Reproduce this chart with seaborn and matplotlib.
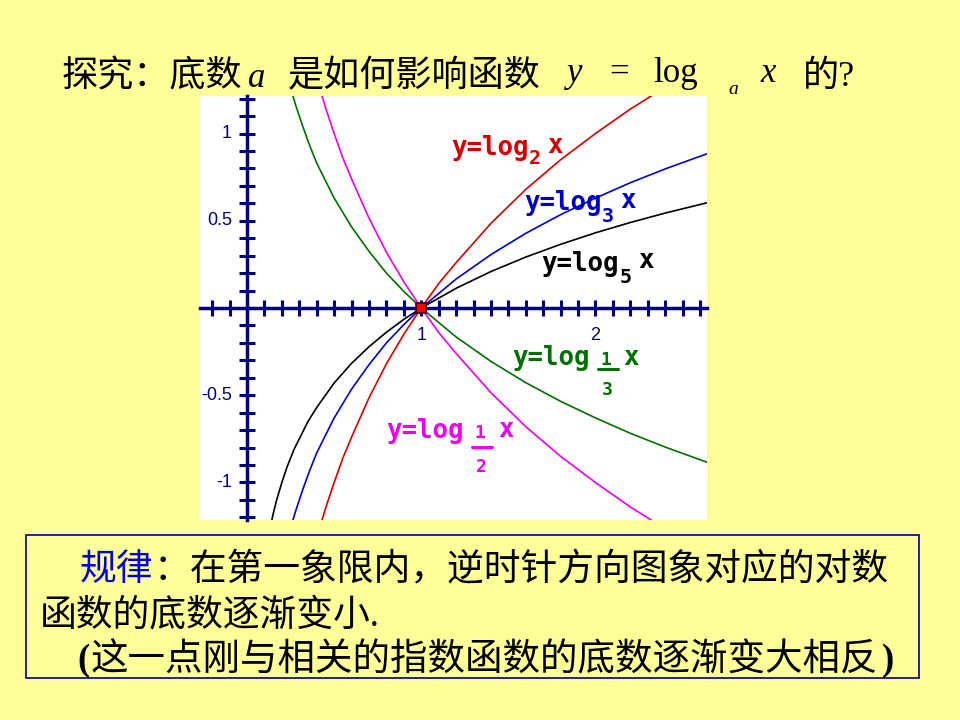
import matplotlib
matplotlib.use("Agg")
import matplotlib.pyplot as plt
import seaborn as sns
from matplotlib.lines import Line2D
from matplotlib.patches import Rectangle
from matplotlib.ticker import MultipleLocator

# --- curve points ---
x_log2 = [0.42, 0.45, 0.5, 0.55, 0.6, 0.7, 0.8, 0.9, 1.0, 1.1, 1.2, 1.4, 1.6, 1.8, 2.0, 2.2, 2.36]
y_log2 = [-1.25, -1.15, -1.00, -0.86, -0.74, -0.515, -0.32, -0.15, 0.0, 0.14, 0.26, 0.485, 0.68, 0.85, 1.00, 1.14, 1.24]
y_log_half = [1.25, 1.15, 1.00, 0.86, 0.74, 0.515, 0.32, 0.15, 0.0, -0.14, -0.26, -0.485, -0.68, -0.85, -1.00, -1.14, -1.24]

x_log3 = [0.25, 0.28, 0.32, 0.36, 0.4, 0.45, 0.5, 0.6, 0.7, 0.8, 0.9, 1.0, 1.2, 1.4, 1.6, 1.8, 2.0, 2.2, 2.4, 2.64]
y_log3 = [-1.26, -1.16, -1.04, -0.93, -0.83, -0.73, -0.63, -0.465, -0.325, -0.20, -0.095, 0.0,
          0.166, 0.306, 0.428, 0.535, 0.63, 0.718, 0.797, 0.884]
y_log_third = [1.26, 1.16, 1.04, 0.93, 0.83, 0.73, 0.63, 0.465, 0.325, 0.20, 0.095, 0.0,
               -0.166, -0.306, -0.428, -0.535, -0.63, -0.718, -0.797, -0.884]

x_log5 = [0.13, 0.15, 0.17, 0.2, 0.23, 0.27, 0.3, 0.35, 0.4, 0.5, 0.6, 0.7, 0.8, 0.9, 1.0,
          1.2, 1.4, 1.6, 1.8, 2.0, 2.2, 2.4, 2.64]
y_log5 = [-1.27, -1.18, -1.10, -1.00, -0.91, -0.81, -0.75, -0.65, -0.57, -0.43, -0.317, -0.222,
          -0.139, -0.065, 0.0, 0.113, 0.209, 0.292, 0.365, 0.431, 0.49, 0.544, 0.603]

common_point = ([1.0], [0.0])

y_tick_vals = [1, 0.5, -0.5, -1]
y_tick_text = ["1", "0.5", "-0.5", "-1"]
x_tick_vals = [1, 2]
x_tick_text = ["1", "2"]

BG = "#FFFF99"
NAVY = "#000080"
RED, BLUE, BLACK, GREEN, MAGENTA = "#d40000", "#0000cc", "#000000", "#007000", "#ee00ee"

sns.set_theme(style="white")
plt.rcParams['font.family'] = ['Noto Sans CJK SC', 'DejaVu Sans']

W, H = 960, 720
fig = plt.figure(figsize=(9.6, 7.2), dpi=100, facecolor=BG)
ax = fig.add_axes([200 / W, 1 - 520 / H, 507 / W, 424 / H])
ax.set_facecolor("white")

curves = [
    (x_log2, y_log2, RED),
    (x_log3, y_log3, BLUE),
    (x_log5, y_log5, BLACK),
    (x_log3, y_log_third, GREEN),
    (x_log2, y_log_half, MAGENTA),
]
for xs, ys, c in curves:
    sns.lineplot(x=xs, y=ys, ax=ax, color=c, linewidth=1.2, estimator=None, sort=False)

sns.scatterplot(x=common_point[0], y=common_point[1], ax=ax, marker="s", s=60,
                color="red", edgecolor="#300000", linewidth=1.2, zorder=6)

ax.set_xlim(-0.27, 2.64)
ax.set_ylim(-1.215, 1.215)
for s in ["top", "right"]:
    ax.spines[s].set_visible(False)
for s in ["left", "bottom"]:
    ax.spines[s].set_position(("data", 0))
    ax.spines[s].set_color(NAVY)
    ax.spines[s].set_linewidth(2.5)
ax.xaxis.set_major_locator(MultipleLocator(0.1))
ax.yaxis.set_major_locator(MultipleLocator(0.1))
ax.tick_params(direction="inout", length=12, width=2.2, color=NAVY,
               bottom=True, left=True, labelbottom=False, labelleft=False)
ax.set_xlabel("")
ax.set_ylabel("")

for v, t in zip(y_tick_vals, y_tick_text):
    ax.text(-0.086, v, t, ha="right", va="center", fontsize=13,
            family="Liberation Sans", color=NAVY, clip_on=False)
for v, t in zip(x_tick_vals, x_tick_text):
    ax.text(v, -0.11, t, ha="center", va="top", fontsize=13,
            family="Liberation Sans", color=NAVY, clip_on=False)


def put(x, y, s, **kw):
    fig.text(x / W, 1 - y / H, s, **kw)


def bar(x0, x1, y, color):
    fig.add_artist(Line2D([x0 / W, x1 / W], [1 - y / H, 1 - y / H],
                          transform=fig.transFigure, color=color, lw=2.2))


mono = dict(family="DejaVu Sans Mono", weight="bold", va="baseline")

# curve labels
put(451, 155, "y=log", fontsize=18.5, color=RED, **mono)
put(529, 164, "2", fontsize=14.5, color=RED, **mono)
put(547, 153, "x", fontsize=18.5, color=RED, **mono)

put(524, 210, "y=log", fontsize=18.5, color=BLUE, **mono)
put(602, 222, "3", fontsize=14.5, color=BLUE, **mono)
put(620, 208, "x", fontsize=18.5, color=BLUE, **mono)

put(541, 271, "y=log", fontsize=18.5, color=BLACK, **mono)
put(620, 283, "5", fontsize=14.5, color=BLACK, **mono)
put(638, 268, "x", fontsize=18.5, color=BLACK, **mono)

put(512, 365, "y=log", fontsize=18.5, color=GREEN, **mono)
put(606, 365, "1", fontsize=13, color=GREEN, ha="center", **mono)
bar(598, 618, 369, GREEN)
put(607, 395, "3", fontsize=13, color=GREEN, ha="center", **mono)
put(623, 365, "x", fontsize=18.5, color=GREEN, **mono)

put(386, 438, "y=log", fontsize=18.5, color=MAGENTA, **mono)
put(480, 438, "1", fontsize=13, color=MAGENTA, ha="center", **mono)
bar(472, 492, 447, MAGENTA)
put(481, 472, "2", fontsize=13, color=MAGENTA, ha="center", **mono)
put(498, 437, "x", fontsize=18.5, color=MAGENTA, **mono)

# title
cjk = ["Liberation Serif", "Noto Sans CJK SC"]
put(62, 86, "探究：底数", fontsize=26, family=cjk, color="black", va="baseline")
put(248, 87, "a", fontsize=25, family="Liberation Serif", style="italic", va="baseline", color="black")
put(288, 86, "是如何影响函数", fontsize=26, family=cjk, color="black", va="baseline")
put(567, 82, "y", fontsize=25, family="Liberation Serif", style="italic", va="baseline", color="black")
put(609, 82, "=", fontsize=25, family="Liberation Serif", va="baseline", color="black")
put(653, 82, "log", fontsize=25, family="Liberation Serif", va="baseline", color="black")
put(728, 94, "a", fontsize=14, family="Liberation Serif", style="italic", va="baseline", color="black")
put(760, 82, "x", fontsize=25, family="Liberation Serif", style="italic", va="baseline", color="black")
put(803, 86, "的?", fontsize=26, family=cjk, color="black", va="baseline")

# bottom box
fig.add_artist(Rectangle((26 / W, 1 - 678 / H), (919 - 26) / W, (678 - 535) / H,
                         transform=fig.transFigure, fill=False, edgecolor=NAVY, lw=1.2))
put(80, 580, "规律", fontsize=26.5, family=cjk, color="#0000dd", va="baseline")
put(154, 580, "：在第一象限内，逆时针方向图象对应的对数", fontsize=26.5, family=cjk,
    color="black", va="baseline")
put(40, 625, "函数的底数逐渐变小.", fontsize=26.5, family=cjk, color="black", va="baseline")
put(77, 670, "(", fontsize=26.5, family="Liberation Serif", weight="bold",
    color="black", va="baseline")
put(91, 670, "这一点刚与相关的指数函数的底数逐渐变大相反", fontsize=27, family=cjk,
    color="black", va="baseline")
put(882, 670, ")", fontsize=26.5, family="Liberation Serif", weight="bold",
    color="black", va="baseline")

fig.savefig("out.png", dpi=100, facecolor=BG)
